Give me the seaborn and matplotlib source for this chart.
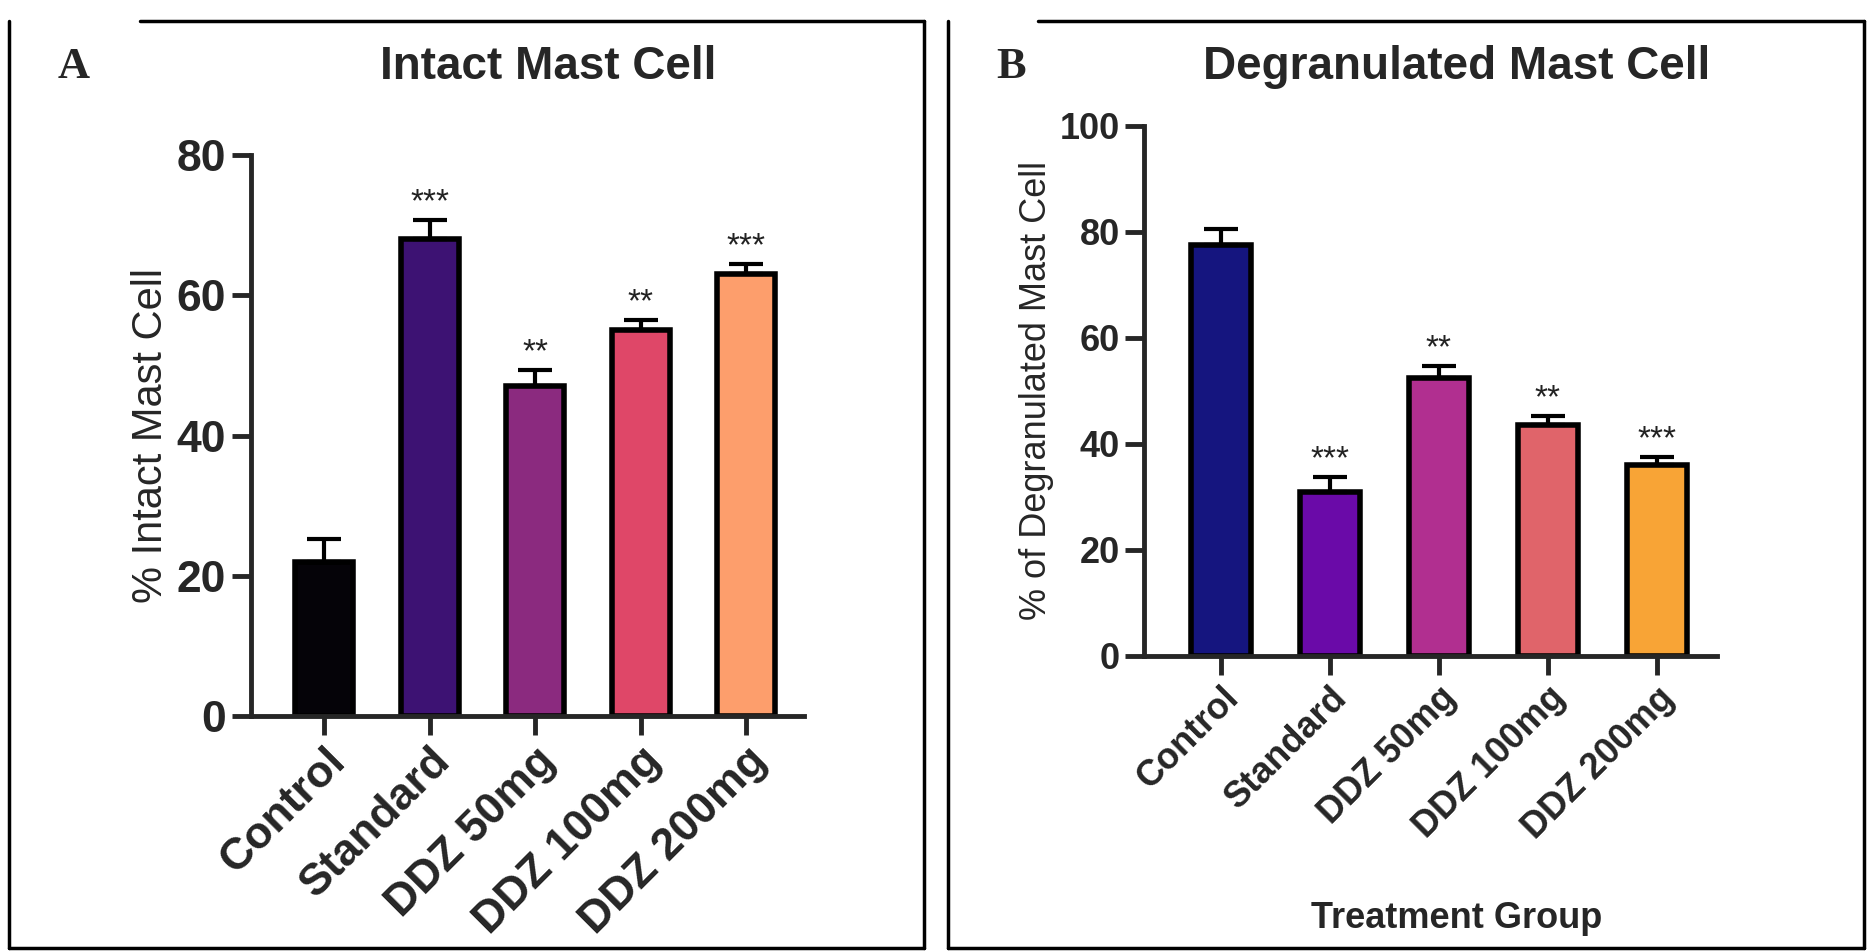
import numpy as np
import pandas as pd
import matplotlib
matplotlib.use("Agg")
import matplotlib.pyplot as plt
import seaborn as sns
from matplotlib.lines import Line2D

groups = ["Control", "Standard", "DDZ 50mg", "DDZ 100mg", "DDZ 200mg"]
intact_mean = [22, 68, 47, 55, 63]
intact_err = [3.2, 2.7, 2.3, 1.5, 1.5]
intact_sig = ["", "***", "**", "**", "***"]
degran_mean = [77.5, 31, 52.5, 43.5, 36]
degran_err = [3.0, 2.8, 2.2, 1.8, 1.5]
degran_sig = ["", "***", "**", "**", "***"]
colors_a = ["#050308", "#3d1273", "#8b2a7f", "#df4768", "#fd9e6c"]
colors_b = ["#15157f", "#6a0aa8", "#b12f90", "#e0646a", "#f8a436"]

sns.set_style("ticks")
plt.rcParams["font.family"] = ["Liberation Sans", "DejaVu Sans"]

fig = plt.figure(figsize=(18.7, 9.52), dpi=100)
ax_a = fig.add_axes([0.134, 0.248, 0.296, 0.589])
ax_b = fig.add_axes([0.612, 0.311, 0.306, 0.557])


def draw(ax, means, errs, sigs, colors, ymax, step, ylabel, lab_size, tick_size, star_size):
    df = pd.DataFrame({"group": groups, "value": means})
    sns.barplot(data=df, x="group", y="value", hue="group", palette=colors,
                legend=False, ax=ax, width=0.55, edgecolor="black", linewidth=4,
                errorbar=None, saturation=1)
    x = np.arange(len(groups))
    ax.errorbar(x, means, yerr=[np.zeros(len(errs)), errs], fmt="none",
                ecolor="black", elinewidth=3, capsize=12, capthick=3)
    for xi, m, e, s in zip(x, means, errs, sigs):
        if s:
            ax.text(xi, m + e + ymax * 0.003, s, ha="center", va="bottom",
                    fontsize=star_size, color="#222222")
    ax.set_ylim(0, ymax)
    ax.set_xlim(-0.7, len(groups) - 0.45)
    ax.set_yticks(np.arange(0, ymax + 1, step))
    ax.set_xlabel("")
    ax.set_ylabel(ylabel, fontsize=lab_size)
    sns.despine(ax=ax)
    for sp in ["left", "bottom"]:
        ax.spines[sp].set_linewidth(3.5)
    ax.tick_params(width=3.5, length=14)
    plt.setp(ax.get_yticklabels(), fontsize=tick_size, fontweight="bold")
    plt.setp(ax.get_xticklabels(), fontsize=tick_size, fontweight="bold",
             rotation=45, ha="right", rotation_mode="anchor")


draw(ax_a, intact_mean, intact_err, intact_sig, colors_a, 80, 20,
     "% Intact Mast Cell", 30, 32, 24)
draw(ax_b, degran_mean, degran_err, degran_sig, colors_b, 100, 20,
     "% of Degranulated Mast Cell", 26, 26, 24)
fig.text(0.293, 0.93, "Intact Mast Cell", fontsize=33, fontweight="bold",
         ha="center", va="center")
fig.text(0.779, 0.93, "Degranulated Mast Cell", fontsize=33, fontweight="bold",
         ha="center", va="center")
fig.text(0.779, 0.035, "Treatment Group", fontsize=26, fontweight="bold",
         ha="center", va="center")

# panel frames (top edge starts a bit right of the left edge, as in the figure)
for x0, x1, gap in [(0.005, 0.494, 0.07), (0.507, 0.997, 0.048)]:
    y0, y1 = 0.004, 0.978
    for xs, ys in [([x0, x0], [y0, y1]), ([x0, x1], [y0, y0]),
                   ([x1, x1], [y0, y1]), ([x0 + gap, x1], [y1, y1])]:
        fig.add_artist(Line2D(xs, ys, transform=fig.transFigure, color="black", lw=2.5))
fig.text(0.031, 0.93, "A", fontsize=32, fontweight="bold", family="Liberation Serif",
         va="center")
fig.text(0.533, 0.93, "B", fontsize=32, fontweight="bold", family="Liberation Serif",
         va="center")

fig.savefig("out.png", dpi=100, facecolor="white")
